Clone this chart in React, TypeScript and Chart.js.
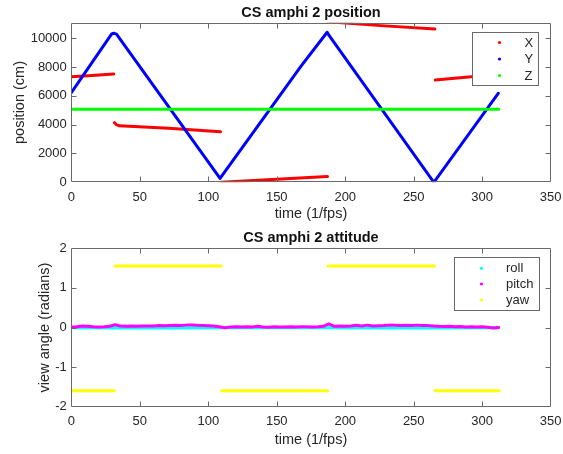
import React, { useEffect, useRef } from "react";
import { Chart, registerables } from "chart.js";

Chart.register(...registerables);

type P = [number, number | null];

// ---------- data ----------
const timeTicks = [0, 50, 100, 150, 200, 250, 300, 350];
const positionTicks = [0, 2000, 4000, 6000, 8000, 10000];
const angleTicks = [-2, -1, 0, 1, 2];

const positionLabels = ["X", "Y", "Z"];
const attitudeLabels = ["roll", "pitch", "yaw"];

// position (cm) vs time (1/fps); null = gap between segments
const posX: P[] = [
  [0, 7330], [15, 7420], [31, 7520], [31.2, null],
  [31.5, 4140], [33, 4000], [35, 3920], [71, 3750], [109, 3515], [109.3, null],
  [109.5, 0], [150, 210], [187, 395], [187.1, null],
  [187.2, 11150], [226, 10880], [265.5, 10646], [265.6, null],
  [265.7, 7104], [292, 7333], [312, 7450],
];
const posY: P[] = [
  [0, 6227], [29.5, 10300], [31, 10350], [33, 10290], [108.6, 270],
  [168, 8100], [186.8, 10420], [188.3, 10180], [264.7, 0], [311.7, 6180],
];
const posZ: P[] = [
  [0, 5070], [100, 5075], [200, 5065], [312, 5070],
];

// attitude (radians) vs time (1/fps)
const roll: P[] = [
  [0, -0.005], [40, -0.01], [80, -0.012], [110, -0.005], [150, -0.005],
  [190, -0.008], [230, -0.012], [260, -0.01], [312, -0.005],
];
const pitch: P[] = [
  [0, 0.01], [4, 0.02], [8, 0.04], [12, 0.03], [16, 0.02], [20, 0.015],
  [24, 0.02], [28, 0.03], [32, 0.07], [36, 0.035], [40, 0.03], [44, 0.035],
  [48, 0.03], [52, 0.04], [56, 0.035], [60, 0.04], [64, 0.05], [68, 0.045],
  [72, 0.05], [76, 0.055], [80, 0.05], [84, 0.06], [88, 0.065], [92, 0.055],
  [96, 0.05], [100, 0.045], [104, 0.04], [108, 0.02], [112, -0.005], [116, 0.01],
  [120, 0.02], [124, 0.01], [128, 0.02], [132, 0.015], [136, 0.03], [140, 0.01],
  [144, 0.005], [148, 0.02], [152, 0.015], [156, 0.01], [160, 0.02], [164, 0.015],
  [168, 0.02], [172, 0.02], [176, 0.015], [180, 0.02], [184, 0.03], [188, 0.09],
  [192, 0.03], [196, 0.035], [200, 0.03], [204, 0.04], [208, 0.055], [212, 0.04],
  [216, 0.06], [220, 0.04], [224, 0.045], [228, 0.05], [232, 0.06], [236, 0.055],
  [240, 0.05], [244, 0.055], [248, 0.05], [252, 0.06], [256, 0.05], [260, 0.05],
  [264, 0.04], [268, 0.03], [272, 0.025], [276, 0.03], [280, 0.02], [284, 0.025],
  [288, 0.015], [292, 0.02], [296, 0.01], [300, 0.02], [304, 0.005], [308, -0.01],
  [312, 0.0],
];
const yaw: P[] = [
  [0, -1.595], [31.5, -1.595], [31.7, null],
  [31.9, 1.55], [109.5, 1.55], [109.6, null],
  [109.7, -1.595], [187.2, -1.595], [187.3, null],
  [187.5, 1.55], [265.2, 1.55], [265.3, null],
  [265.5, -1.595], [312.5, -1.595],
];

// ---------- styling helpers ----------
const FONT = "'Liberation Sans', Arial, Helvetica, sans-serif";
const TXT = "#262626";
const FRAME = "#6a6a6a";

const toXY = (pts: P[]) => pts.map(([x, y]) => ({ x, y }));

const lineStyle = (color: string, order: number) => ({
  borderColor: color,
  backgroundColor: color,
  borderWidth: 3,
  pointRadius: 0,
  borderCapStyle: "round" as const,
  borderJoinStyle: "round" as const,
  tension: 0,
  spanGaps: false,
  fill: false,
  order,
});

const axesPlugin = {
  id: "matlabAxes",
  afterDatasetsDraw(chart: any, _args: any, opts: any) {
    const { ctx, chartArea: a, scales } = chart;
    const L = Math.round(a.left) + 0.5;
    const R = Math.round(a.right) - 0.5;
    const T = Math.round(a.top) + 0.5;
    const B = Math.round(a.bottom) - 0.5;
    ctx.save();
    ctx.strokeStyle = FRAME;
    ctx.lineWidth = 1;
    ctx.beginPath();
    ctx.rect(L, T, R - L, B - T);
    const tl = 5;
    for (const v of opts.xTicks as number[]) {
      const px = Math.round(scales.x.getPixelForValue(v)) + 0.5;
      if (px <= L + 1 || px >= R - 1) continue;
      ctx.moveTo(px, B);
      ctx.lineTo(px, B - tl);
      ctx.moveTo(px, T);
      ctx.lineTo(px, T + tl);
    }
    for (const v of opts.yTicks as number[]) {
      const py = Math.round(scales.y.getPixelForValue(v)) + 0.5;
      if (py <= T + 1 || py >= B - 1) continue;
      ctx.moveTo(L, py);
      ctx.lineTo(L + tl, py);
      ctx.moveTo(R, py);
      ctx.lineTo(R - tl, py);
    }
    ctx.stroke();
    // title
    ctx.fillStyle = "#111";
    ctx.font = `bold 14.5px ${FONT}`;
    ctx.textAlign = "center";
    ctx.textBaseline = "middle";
    ctx.fillText(opts.title, (a.left + a.right) / 2, a.top - opts.titleGap);
    ctx.restore();
  },
};

const legendPlugin = {
  id: "matlabLegend",
  afterDraw(chart: any, _args: any, opts: any) {
    const { ctx } = chart;
    const [l, t, r, b] = opts.box as number[];
    ctx.save();
    ctx.fillStyle = "#ffffff";
    ctx.fillRect(l, t, r - l, b - t);
    ctx.strokeStyle = FRAME;
    ctx.lineWidth = 1;
    ctx.strokeRect(Math.round(l) + 0.5, Math.round(t) + 0.5, Math.round(r - l), Math.round(b - t));
    ctx.font = `13px ${FONT}`;
    ctx.textAlign = "left";
    ctx.textBaseline = "middle";
    (opts.labels as string[]).forEach((lab, i) => {
      const y = opts.rows[i];
      ctx.fillStyle = opts.colors[i];
      ctx.beginPath();
      ctx.arc(opts.markerX, y, 1.6, 0, Math.PI * 2);
      ctx.fill();
      ctx.fillStyle = TXT;
      ctx.fillText(lab, opts.textX, y + 0.5);
    });
    ctx.restore();
  },
};

function makeConfig(p: {
  datasets: any[];
  yMin: number;
  yMax: number;
  yTicks: number[];
  yTitle: string;
  yTitlePad: number;
  padTop: number;
  xAxisH: number;
  xTitlePad: number;
  title: string;
  titleGap: number;
  legend: any;
}): any {
  const tickFont = { family: FONT, size: 13 };
  const titleFont = { family: FONT, size: 14.5 };
  return {
    type: "line",
    data: { datasets: p.datasets },
    options: {
      responsive: false,
      animation: false,
      devicePixelRatio: 1,
      events: [],
      layout: { padding: { left: 0, right: 12.3, top: p.padTop, bottom: 0 } },
      scales: {
        x: {
          type: "linear",
          min: 0,
          max: 350,
          afterBuildTicks: (s: any) => {
            s.ticks = timeTicks.map((v) => ({ value: v }));
          },
          afterFit: (s: any) => {
            s.height = p.xAxisH;
            s.paddingLeft = 0;
            s.paddingRight = 0;
          },
          grid: { display: false, drawTicks: false },
          border: { display: false },
          ticks: {
            font: tickFont,
            color: TXT,
            padding: 7,
            maxRotation: 0,
            autoSkip: false,
            callback: (v: any) => String(v),
          },
          title: {
            display: true,
            text: "time (1/fps)",
            font: titleFont,
            color: TXT,
            padding: { top: 0, bottom: p.xTitlePad },
          },
        },
        y: {
          type: "linear",
          min: p.yMin,
          max: p.yMax,
          afterBuildTicks: (s: any) => {
            s.ticks = p.yTicks.map((v) => ({ value: v }));
          },
          afterFit: (s: any) => {
            s.width = 71.3;
            s.paddingTop = 0;
            s.paddingBottom = 0;
          },
          grid: { display: false, drawTicks: false },
          border: { display: false },
          ticks: {
            font: tickFont,
            color: TXT,
            padding: 4.5,
            autoSkip: false,
            callback: (v: any) => String(v),
          },
          title: {
            display: true,
            text: p.yTitle,
            font: titleFont,
            color: TXT,
            padding: { top: p.yTitlePad, bottom: 0 },
          },
        },
      },
      plugins: {
        legend: { display: false },
        tooltip: { enabled: false },
        matlabAxes: { xTicks: timeTicks, yTicks: p.yTicks, title: p.title, titleGap: p.titleGap },
        matlabLegend: p.legend,
      },
    },
    plugins: [axesPlugin, legendPlugin],
  };
}

export default function App() {
  const topRef = useRef<HTMLCanvasElement | null>(null);
  const botRef = useRef<HTMLCanvasElement | null>(null);

  useEffect(() => {
    const c1 = new Chart(
      topRef.current as HTMLCanvasElement,
      makeConfig({
        datasets: [
          { label: positionLabels[0], data: toXY(posX), ...lineStyle("#ff0000", 3) },
          { label: positionLabels[1], data: toXY(posY), ...lineStyle("#0000ff", 2) },
          { label: positionLabels[2], data: toXY(posZ), ...lineStyle("#00ff00", 1) },
        ],
        yMin: 0,
        yMax: 11083,
        yTicks: positionTicks,
        yTitle: "position (cm)",
        yTitlePad: 11.3,
        padTop: 22.7,
        xAxisH: 44.7,
        xTitlePad: 4,
        title: "CS amphi 2 position",
        titleGap: 9.6,
        legend: {
          box: [472.3, 31.7, 538.5, 85],
          labels: positionLabels,
          colors: ["#ff0000", "#0000ff", "#00ff00"],
          markerX: 499.5,
          textX: 524.5,
          rows: [42.5, 59, 75.5],
        },
      })
    );
    const c2 = new Chart(
      botRef.current as HTMLCanvasElement,
      makeConfig({
        datasets: [
          { label: attitudeLabels[0], data: toXY(roll), ...lineStyle("#00ffff", 3) },
          { label: attitudeLabels[1], data: toXY(pitch), ...lineStyle("#ff00ff", 2) },
          { label: attitudeLabels[2], data: toXY(yaw), ...lineStyle("#ffff00", 1) },
        ],
        yMin: -2,
        yMax: 2,
        yTicks: angleTicks,
        yTitle: "view angle (radians)",
        yTitlePad: 36.5,
        padTop: 21.3,
        xAxisH: 47.3,
        xTitlePad: 5.3,
        title: "CS amphi 2 attitude",
        titleGap: 10,
        legend: {
          box: [454.3, 29.7, 539.6, 82.3],
          labels: attitudeLabels,
          colors: ["#00ffff", "#ff00ff", "#ffff00"],
          markerX: 481.5,
          textX: 506,
          rows: [41.3, 57, 73],
        },
      })
    );
    return () => {
      c1.destroy();
      c2.destroy();
    };
  }, []);

  return (
    <div style={{ position: "absolute", left: 0, top: 0, width: 563, height: 454, background: "#fff" }}>
      <canvas ref={topRef} width={563} height={227} style={{ position: "absolute", left: 0, top: 0, width: 563, height: 227 }} />
      <canvas ref={botRef} width={563} height={227} style={{ position: "absolute", left: 0, top: 227, width: 563, height: 227 }} />
    </div>
  );
}
